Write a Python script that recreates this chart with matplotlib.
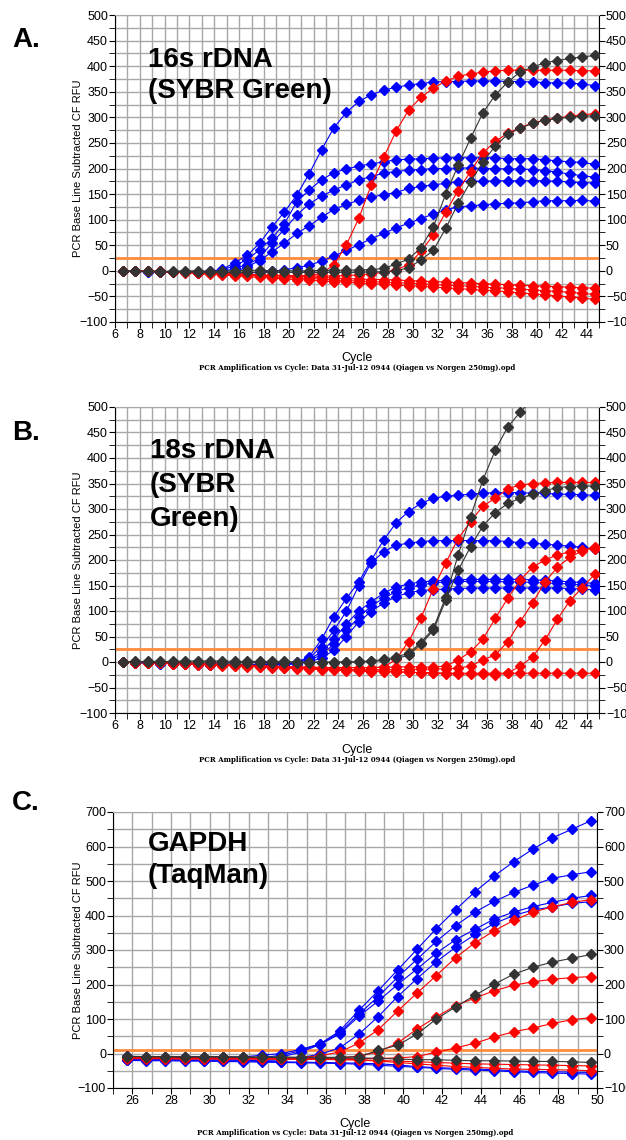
import numpy as np
import matplotlib
matplotlib.use("Agg")
from matplotlib import pyplot as plt
from matplotlib.ticker import MultipleLocator

plt.rcParams['font.family'] = ['Liberation Sans', 'DejaVu Sans']

BLUE = '#0000ff'
RED = '#ff0000'
BLACK = '#333333'
ORANGE = '#ff8c3c'

# ---------------- panel A : 16s rDNA ----------------
cyc_ab = np.arange(39) + 6.65
a_blue = [
    [0,-1,-1,-2,-2,-2,-2,-1,3,16,30,54,86,115,148,190,237,280,310,331,344,353,359,363,366,369,370,370,371,371,371,370,370,369,368,367,367,365,362],
    [0,-1,-1,-2,-2,-2,-3,-3,2,10,22,41,64,92,135,158,178,192,199,205,209,213,217,218,219,220,221,221,221,221,221,219,219,219,217,215,213,212,208],
    [0,-1,-1,-2,-2,-2,-3,-4,-2,5,12,25,55,81,109,131,146,158,168,178,184,191,194,197,198,200,200,201,201,200,200,199,199,198,196,193,189,186,183],
    [0,-1,-2,-2,-3,-3,-4,-4,-4,-2,8,20,37,54,73,88,105,120,130,138,144,149,153,161,165,168,171,174,175,175,176,176,176,176,176,175,174,172,172],
    [0,-1,-2,-2,-3,-3,-4,-4,-5,-5,-4,-3,-1,2,6,11,19,29,40,51,63,73,84,93,102,111,119,125,127,129,131,132,133,135,137,137,137,138,136],
]
a_red = [
    [0,0,-1,-1,-2,-2,-4,-5,-6,-7,-8,-9,-9,-10,-10,-9,-5,12,51,103,168,222,273,314,339,357,371,380,385,388,391,392,392,392,392,392,392,391,391],
    [0,0,-1,-1,-2,-2,-3,-4,-5,-6,-7,-8,-9,-9,-10,-10,-10,-10,-9,-8,-6,-3,2,12,38,70,115,157,194,231,253,269,280,289,295,299,302,305,307],
    [0,0,-1,-1,-2,-2,-3,-4,-5,-6,-7,-8,-9,-10,-11,-12,-13,-14,-15,-16,-17,-17,-18,-19,-20,-21,-22,-23,-24,-25,-26,-27,-28,-29,-30,-31,-32,-33,-34],
    [0,0,-1,-2,-2,-3,-4,-5,-6,-8,-9,-10,-12,-13,-14,-15,-16,-18,-19,-20,-21,-22,-23,-24,-25,-27,-28,-29,-30,-32,-33,-34,-36,-37,-39,-40,-42,-44,-46],
    [0,-1,-1,-2,-3,-4,-5,-7,-8,-10,-11,-13,-14,-16,-17,-18,-20,-21,-22,-24,-25,-26,-28,-29,-30,-32,-33,-35,-36,-38,-39,-41,-43,-45,-47,-49,-51,-53,-56],
]
a_black = [
    [0,-1,-1,-1,-1,0,0,-1,0,0,1,1,0,0,0,0,1,1,1,2,2,5,13,23,45,86,150,206,259,309,344,369,389,398,407,411,415,418,421],
    [0,-1,-1,-2,-2,-2,-3,-3,-3,-3,-3,-3,-3,-3,-3,-3,-3,-3,-3,-3,-2,-2,0,6,21,40,83,132,174,213,244,267,279,288,294,298,300,302,303],
]

# ---------------- panel B : 18s rDNA ----------------
b_blue = [
    [0,-1,-1,-2,-2,-3,-3,-4,-4,-4,-5,-4,-4,-3,0,10,45,89,125,157,200,239,273,295,311,321,325,327,329,331,332,332,332,331,331,329,329,328,327],
    [0,-1,-1,-2,-2,-3,-3,-4,-4,-5,-5,-5,-4,-3,-1,8,30,62,100,150,195,216,229,233,236,238,238,238,238,238,238,236,234,233,231,229,227,225,221],
    [0,-1,-2,-2,-3,-3,-4,-4,-5,-5,-5,-5,-4,-3,-2,5,20,45,75,100,118,135,147,153,157,159,160,161,162,162,162,162,162,161,160,159,157,156,154],
    [0,-1,-2,-3,-3,-4,-4,-5,-5,-6,-6,-6,-5,-4,-3,2,15,35,62,88,110,125,138,146,151,155,157,158,158,158,158,157,157,156,155,154,153,151,150],
    [0,-1,-2,-3,-3,-4,-5,-5,-6,-6,-6,-6,-6,-5,-4,0,8,23,50,79,99,116,128,136,140,142,143,144,145,145,145,145,145,145,145,145,144,143,141],
]
b_red = [
    [0,0,-1,-1,-2,-2,-3,-3,-4,-5,-6,-7,-8,-9,-10,-10,-11,-11,-11,-11,-11,-10,5,40,86,144,194,242,275,306,321,340,347,350,351,352,352,352,352],
    [0,0,-1,-1,-2,-2,-3,-4,-5,-6,-7,-8,-9,-10,-10,-10,-11,-11,-11,-11,-11,-10,-10,-9,-10,-10,-8,4,20,45,86,125,161,186,200,210,216,220,222],
    [0,-1,-1,-2,-3,-3,-4,-5,-6,-7,-8,-9,-10,-11,-12,-13,-14,-14,-15,-15,-15,-15,-15,-15,-14,-14,-13,-12,-8,4,14,40,79,116,157,186,205,218,226],
    [0,-1,-1,-2,-3,-4,-5,-6,-7,-8,-9,-10,-11,-12,-13,-14,-15,-16,-17,-18,-19,-19,-20,-20,-21,-22,-23,-23,-24,-24,-25,-22,-8,10,43,84,120,146,172],
    [0,-1,-1,-2,-3,-3,-4,-4,-5,-6,-7,-8,-9,-10,-11,-12,-13,-14,-15,-16,-17,-18,-19,-20,-21,-21,-22,-22,-22,-22,-22,-22,-22,-22,-22,-22,-22,-22,-22],
]
b_black = [
    [0,1,1,1,1,2,2,2,2,1,1,1,1,1,0,0,0,0,0,1,2,5,10,17,38,66,127,210,285,357,416,461,490,515,535,552,566,578,588],
    [0,0,0,0,0,0,0,0,-1,-1,-1,-1,-1,-1,-1,-1,-1,-1,0,0,1,3,7,13,35,62,121,180,226,267,293,311,321,329,336,342,344,345,345],
]

# ---------------- panel C : GAPDH ----------------
cyc_c = np.arange(25) + 25.7
c_blue = [
    [-8,-10,-10,-9,-10,-11,-10,-5,0,12,28,65,125,182,242,302,362,417,469,515,556,593,625,650,675],
    [-12,-12,-13,-12,-13,-13,-13,-12,-5,8,28,60,114,165,221,273,325,371,410,441,467,488,508,518,527],
    [-15,-15,-15,-15,-15,-16,-16,-15,-10,4,26,56,108,152,200,245,291,330,360,390,410,426,438,450,458],
    [-18,-18,-18,-19,-19,-19,-20,-20,-19,-12,-2,16,56,107,165,217,266,308,345,377,400,416,425,435,440],
    [-18,-19,-19,-20,-21,-21,-22,-23,-24,-25,-26,-27,-28,-30,-33,-38,-41,-43,-45,-47,-50,-52,-53,-54,-55],
    [-20,-21,-21,-22,-22,-23,-24,-25,-26,-27,-28,-29,-31,-34,-37,-40,-43,-46,-48,-50,-53,-55,-57,-58,-60],
]
c_red = [
    [-12,-12,-12,-13,-13,-13,-13,-14,-14,-12,-6,4,30,69,123,175,226,278,321,356,386,410,425,438,446],
    [-13,-13,-13,-14,-14,-14,-14,-14,-15,-15,-14,-12,-8,5,30,71,106,139,161,182,198,208,215,220,223],
    [-15,-15,-15,-16,-16,-16,-16,-16,-16,-16,-16,-15,-15,-14,-13,-9,4,16,30,48,63,74,87,98,104],
    [-14,-14,-15,-15,-15,-15,-15,-16,-16,-17,-17,-18,-19,-22,-26,-30,-34,-38,-40,-43,-45,-46,-47,-48,-50],
    [-12,-12,-12,-13,-13,-13,-14,-14,-15,-15,-16,-17,-18,-20,-22,-24,-26,-28,-30,-31,-32,-33,-34,-35,-36],
]
c_black = [
    [-8,-9,-9,-9,-9,-9,-10,-10,-10,-11,-11,-11,-9,9,24,56,100,135,169,201,230,250,265,276,287],
    [-9,-9,-10,-10,-10,-10,-11,-11,-12,-12,-13,-13,-13,-14,-16,-18,-18,-20,-21,-21,-22,-23,-23,-24,-26],
]

W, H = 626, 1140
fig = plt.figure(figsize=(W / 100, H / 100), dpi=100)


def box(l, t, r, b):
    return [l / W, 1 - b / H, (r - l) / W, (b - t) / H]


def panel(rect, x, blues, reds, blacks, xlim, ylim, xstep, ymaj, ymin, thresh):
    ax = fig.add_axes(rect)
    ax.set_xlim(xlim)
    ax.set_ylim(ylim)
    ax.xaxis.set_major_locator(MultipleLocator(xstep))
    ax.xaxis.set_minor_locator(MultipleLocator(1))
    ax.yaxis.set_major_locator(MultipleLocator(ymaj))
    ax.yaxis.set_minor_locator(MultipleLocator(ymin))
    ax.grid(True, which='both', color='#a8a8a8', lw=1.0)
    ax.set_axisbelow(True)
    ax.tick_params(which='both', direction='out', left=True, right=True,
                   labelright=True, bottom=True, color='black', labelsize=9, pad=1)
    ax.tick_params(which='major', length=4)
    ax.tick_params(which='minor', length=4)
    for s in ['left', 'right', 'bottom']:
        ax.spines[s].set_color('black')
    ax.spines['top'].set_color('#a8a8a8')
    ax.axhline(thresh, color=ORANGE, lw=2, zorder=2)
    for ys in blues:
        ax.plot(x, ys, color=BLUE, lw=0.8, marker='D', ms=4.8, mec=BLUE, zorder=3)
    for ys in reds:
        ax.plot(x, ys, color=RED, lw=0.8, marker='D', ms=4.8, mec=RED, zorder=3)
    for ys in blacks:
        ax.plot(x, ys, color=BLACK, lw=0.8, marker='D', ms=4.8, mec=BLACK, zorder=3)
    return ax


def px(x, y):
    return x / W, 1 - y / H


caption = "PCR Amplification vs Cycle: Data 31-Jul-12 0944 (Qiagen vs Norgen 250mg).opd"
ylab = "PCR Base Line Subtracted CF RFU"

# panel A
panel(box(115, 15, 599, 322), cyc_ab, a_blue, a_red, a_black, (6, 45), (-100, 500), 2, 50, 25, 25)
fig.text(*px(12, 47), "A.", fontsize=20, fontweight='bold', va='baseline')
fig.text(*px(148, 67), "16s rDNA", fontsize=20, fontweight='bold', va='baseline')
fig.text(*px(148, 98), "(SYBR Green)", fontsize=20, fontweight='bold', va='baseline')
fig.text(*px(78, 168), ylab, fontsize=8, rotation=90, ha='center', va='center')
fig.text(*px(357, 358), "Cycle", fontsize=9, ha='center', va='center')
fig.text(*px(357, 368), caption, fontsize=5, family='DejaVu Serif', fontweight='bold', ha='center', va='center')

# panel B
panel(box(115, 407, 599, 713), cyc_ab, b_blue, b_red, b_black, (6, 45), (-100, 500), 2, 50, 25, 25)
fig.text(*px(12, 440), "B.", fontsize=20, fontweight='bold', va='baseline')
fig.text(*px(150, 458), "18s rDNA", fontsize=20, fontweight='bold', va='baseline')
fig.text(*px(150, 492), "(SYBR", fontsize=20, fontweight='bold', va='baseline')
fig.text(*px(150, 526), "Green)", fontsize=20, fontweight='bold', va='baseline')
fig.text(*px(78, 560), ylab, fontsize=8, rotation=90, ha='center', va='center')
fig.text(*px(357, 750), "Cycle", fontsize=9, ha='center', va='center')
fig.text(*px(357, 760), caption, fontsize=5, family='DejaVu Serif', fontweight='bold', ha='center', va='center')

# panel C
panel(box(113, 812, 597, 1088), cyc_c, c_blue, c_red, c_black, (25, 50), (-100, 700), 2, 100, 50, 10)
fig.text(*px(12, 810), "C.", fontsize=20, fontweight='bold', va='baseline')
fig.text(*px(148, 851), "GAPDH", fontsize=20, fontweight='bold', va='baseline')
fig.text(*px(148, 883), "(TaqMan)", fontsize=20, fontweight='bold', va='baseline')
fig.text(*px(78, 950), ylab, fontsize=8, rotation=90, ha='center', va='center')
fig.text(*px(355, 1124), "Cycle", fontsize=9, ha='center', va='center')
fig.text(*px(355, 1133), caption, fontsize=5, family='DejaVu Serif', fontweight='bold', ha='center', va='center')

fig.savefig("out.png", dpi=100)
